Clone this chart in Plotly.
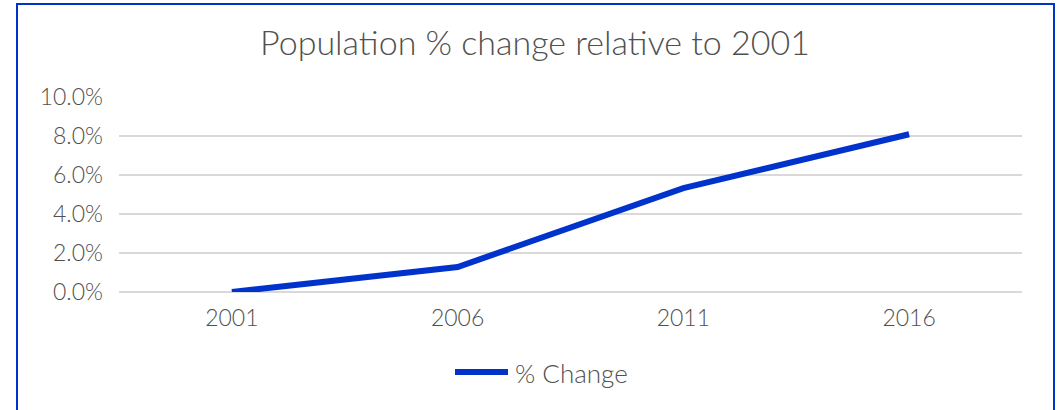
import plotly.graph_objects as go

years = ["2001", "2006", "2011", "2016"]
pct_change = [0.0, 1.28, 5.33, 8.09]
y_ticks = [0, 2, 4, 6, 8, 10]
y_tick_labels = ["0.0%", "2.0%", "4.0%", "6.0%", "8.0%", "10.0%"]

W, H = 1062, 410
L, R, T, B = 119, 40, 97, 118
pw = W - L - R
ph = H - T - B

def px(xp):
    return (xp - L) / pw

def py(yp):
    return (H - B - yp) / ph

blue = "#0033CC"
grey = "#505050"
font = "Lato, Open Sans, sans-serif"

fig = go.Figure()
fig.add_trace(go.Scatter(
    x=years, y=pct_change, mode="lines", name="% Change",
    line=dict(color=blue, width=6), showlegend=False,
))

fig.update_layout(
    width=W, height=H,
    margin=dict(l=L, r=R, t=T, b=B),
    paper_bgcolor="white", plot_bgcolor="white",
    font=dict(family=font, color=grey, size=23, weight=300),
    showlegend=False,
    title=dict(text="Population % change relative to 2001", xref="container",
               x=535 / W, xanchor="center",
               y=1 - 43 / H, yanchor="middle",
               font=dict(size=34, color=grey, family=font, weight=300)),
)
fig.update_xaxes(
    type="category", range=[-0.5, 3.5], showgrid=False, showline=False,
    zeroline=False, ticks="", tickfont=dict(size=23, color=grey, weight=300),
    ticklabelstandoff=10,
)
fig.update_yaxes(
    range=[0, 10], tickvals=y_ticks, ticktext=y_tick_labels,
    showgrid=True, gridcolor="#D9D9D9", gridwidth=2,
    zeroline=True, zerolinecolor="#D9D9D9", zerolinewidth=2,
    showline=False, ticks="", tickfont=dict(size=23, color=grey, weight=300),
    ticklabelstandoff=15,
)

# chart frame
fig.add_shape(type="rect", xref="paper", yref="paper",
              x0=px(17), x1=px(1054), y0=py(420), y1=py(4),
              line=dict(color=blue, width=2), fillcolor="rgba(0,0,0,0)", layer="below")

# legend (manual, Excel-style long swatch)
fig.add_shape(type="line", xref="paper", yref="paper",
              x0=px(455), x1=px(508), y0=py(372), y1=py(372),
              line=dict(color=blue, width=6))
fig.add_annotation(xref="paper", yref="paper", x=px(513), y=py(373),
                   xanchor="left", yanchor="middle", showarrow=False,
                   text="% Change", font=dict(size=26, color=grey, family=font, weight=300))

fig.write_html("out.html", config={"displayModeBar": False},
               post_script="document.body.style.margin='0px';")
